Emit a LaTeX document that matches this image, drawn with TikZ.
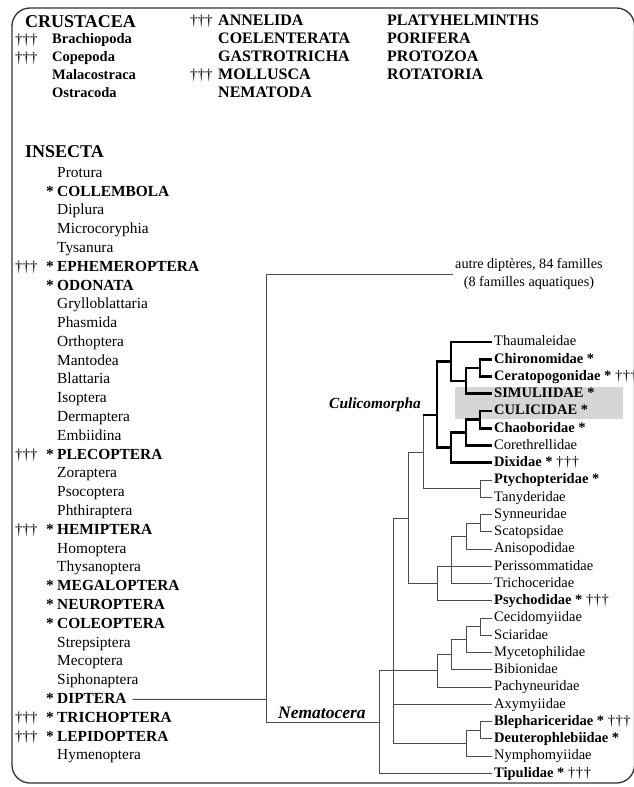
\documentclass[tikz,border=0pt]{standalone}
\usepackage{fontspec}
\setmainfont{Liberation Serif}
\newcommand\mydags{{\mdseries †\kern.6pt†\kern.6pt†}}
\begin{document}
\begin{tikzpicture}[x=1pt,y=-1pt,
  li/.style={anchor=west,inner sep=0pt,font=\fontsize{15.4}{17}\selectfont,text height=11pt,text depth=3pt},
  lf/.style={anchor=west,inner sep=0pt,font=\fontsize{14.5}{16}\selectfont,text height=10.5pt,text depth=3pt},
  lfb/.style={lf,font=\fontsize{14.5}{16}\selectfont\bfseries},
  topb/.style={anchor=west,inner sep=0pt,font=\fontsize{16}{18}\selectfont\bfseries,text height=11.5pt,text depth=3pt},
  topsub/.style={anchor=west,inner sep=0pt,font=\fontsize{14.5}{16}\selectfont\bfseries,text height=10.5pt,text depth=3pt},
  headb/.style={anchor=west,inner sep=0pt,font=\fontsize{18}{20}\selectfont\bfseries,text height=12.5pt,text depth=0pt},
  dag/.style={anchor=west,inner sep=0pt,font=\fontsize{15}{17}\selectfont,text height=11pt,text depth=3pt},
  br/.style={draw=black!70,line width=0.9pt},
  brk/.style={draw=black,line width=2.6pt,line join=miter},
]
\useasboundingbox (0,0) rectangle (633,787);
% frame
\draw[black!80,line width=1.3pt,rounded corners=18pt] (12,8) rectangle (634.5,783);

% top block
\node[headb] (cru) at (25,21) {CRUSTACEA};
\node[dag] (cd1) at (15,40) {†††};
\node[dag] (cd2) at (15,58) {†††};
\node[topsub] (c1) at (52,40) {Brachiopoda};
\node[topsub] (c2) at (52,58) {Copepoda};
\node[topsub] (c3) at (52,76) {Malacostraca};
\node[topsub] (c4) at (52,94) {Ostracoda};
\node[dag] (ad1) at (190,21) {†††};
\node[dag] (ad2) at (190,75) {†††};
\node[topb] (a1) at (218,21) {ANNELIDA};
\node[topb] (a2) at (218,39) {COELENTERATA};
\node[topb] (a3) at (218,57) {GASTROTRICHA};
\node[topb] (a4) at (218,75) {MOLLUSCA};
\node[topb] (a5) at (218,93) {NEMATODA};
\node[topb] (p1) at (387,21) {PLATYHELMINTHS};
\node[topb] (p2) at (387,39) {PORIFERA};
\node[topb] (p3) at (387,57) {PROTOZOA};
\node[topb] (p4) at (387,75) {ROTATORIA};

% insecta list
\node[headb] (ins) at (25,151.7) {INSECTA};
\foreach \t/\b [count=\i from 0] in {Protura/0,COLLEMBOLA/1,Diplura/0,Microcoryphia/0,Tysanura/0,EPHEMEROPTERA/1,ODONATA/1,Grylloblattaria/0,Phasmida/0,Orthoptera/0,Mantodea/0,Blattaria/0,Isoptera/0,Dermaptera/0,Embiidina/0,PLECOPTERA/1,Zoraptera/0,Psocoptera/0,Phthiraptera/0,HEMIPTERA/1,Homoptera/0,Thysanoptera/0,MEGALOPTERA/1,NEUROPTERA/1,COLEOPTERA/1,Strepsiptera/0,Mecoptera/0,Siphonaptera/0,DIPTERA/1,TRICHOPTERA/1,LEPIDOPTERA/1,Hymenoptera/0}
  {\node[li] (L\i) at (57,{173.3+18.79*\i}) {\ifnum\b=1 \bfseries\fi\t};}
\foreach \i in {1,5,6,15,19,22,23,24,28,29,30}
  {\node[li,font=\fontsize{15.4}{17}\selectfont\bfseries] (S\i) at (46,{173.3+18.79*\i}) {*};}
\foreach \i in {5,15,19,29,30}
  {\node[dag] (D\i) at (15,{173.3+18.79*\i}) {†††};}

% highlight
\fill[black!16] (455,386.7) rectangle (623,419.3);

% leaves
\node[lf] (Thau) at (494,342) {Thaumaleidae};
\node[lfb] (Chir) at (494,359.25) {Chironomidae *};
\node[lfb] (Cera) at (494,376.5) {Ceratopogonidae * \mydags};
\node[lfb] (Simu) at (494,393.75) {SIMULIIDAE *};
\node[lfb] (Culi) at (494,411) {CULICIDAE *};
\node[lfb] (Chao) at (494,428.25) {Chaoboridae *};
\node[lf] (Core) at (494,445.5) {Corethrellidae};
\node[lfb] (Dixi) at (494,462.75) {Dixidae * \mydags};
\node[lfb] (Ptyc) at (494,480) {Ptychopteridae *};
\node[lf] (Tany) at (494,497.25) {Tanyderidae};
\node[lf] (Synn) at (494,514.5) {Synneuridae};
\node[lf] (Scat) at (494,531.75) {Scatopsidae};
\node[lf] (Anis) at (494,549) {Anisopodidae};
\node[lf] (Peri) at (494,566.25) {Perissommatidae};
\node[lf] (Tric) at (494,583.5) {Trichoceridae};
\node[lfb] (Psyc) at (494,600.75) {Psychodidae * \mydags};
\node[lf] (Ceci) at (494,618) {Cecidomyiidae};
\node[lf] (Scia) at (494,635.25) {Sciaridae};
\node[lf] (Myce) at (494,652.5) {Mycetophilidae};
\node[lf] (Bibi) at (494,669.75) {Bibionidae};
\node[lf] (Pach) at (494,687) {Pachyneuridae};
\node[lf] (Axym) at (494,704.25) {Axymyiidae};
\node[lfb] (Blep) at (494,721.5) {Blephariceridae * \mydags};
\node[lfb] (Deut) at (494,738.75) {Deuterophlebiidae *};
\node[lf] (Nymp) at (494,756) {Nymphomyiidae};
\node[lfb] (Tipu) at (494,773.25) {Tipulidae * \mydags};

\node[anchor=west,inner sep=0pt,align=center,font=\fontsize{14.2}{18}\selectfont] (autre) at (455,274.5) {autre diptères, 84 familles\\(8 familles aquatiques)};
\node[anchor=base east,inner sep=0pt,font=\fontsize{15.4}{17}\selectfont\bfseries\itshape] (culm) at (421,408) {Culicomorpha};
\node[anchor=base west,inner sep=0pt,font=\fontsize{17.5}{19}\selectfont\bfseries\itshape] (nema) at (278,718) {Nematocera};

% internal coordinates
\coordinate (kCC) at (480,367.9);
\coordinate (kCCS) at (466,380.8);
\coordinate (kT) at (451,361.4);
\coordinate (kCu) at (480,419.6);
\coordinate (kCuC) at (466,432.6);
\coordinate (kD) at (451,447.7);
\coordinate (kCM) at (437,415);
\coordinate (kPT) at (480,488.6);
\coordinate (kCP) at (423,452);
\coordinate (kSS) at (480,523.1);
\coordinate (kSSA) at (466,536.1);
\coordinate (kTr) at (451,560);
\coordinate (kPP) at (437,583.5);
\coordinate (kPs) at (408,518);
\coordinate (kB1) at (480,626.6);
\coordinate (kB2) at (466,639.6);
\coordinate (kB3) at (451,654.7);
\coordinate (kB4) at (437,670.8);
\coordinate (kBl) at (480,730.1);
\coordinate (kBlN) at (466,743);
\coordinate (kAx) at (393,630);
\coordinate (kN) at (379,722);
\coordinate (kDip) at (266,699.4);

% thin branches
\draw[br] (kCP |- kCM) -- (kCP |- kPT) -- (kPT);
\draw[br] ([xshift=-2pt]Ptyc.west) -- (kPT |- Ptyc.west) -- (kPT |- Tany.west) -- ([xshift=-2pt]Tany.west);
\draw[br] ([xshift=-2pt]Synn.west) -- (kSS |- Synn.west) -- (kSS |- Scat.west) -- ([xshift=-2pt]Scat.west);
\draw[br] (kSS) -- (kSSA |- kSS) -- (kSSA |- Anis.west) -- ([xshift=-2pt]Anis.west);
\draw[br] (kSSA) -- (kTr |- kSSA) -- (kTr |- Tric.west) -- ([xshift=-2pt]Tric.west);
\draw[br] ([xshift=-2pt]Peri.west) -- (kPP |- Peri.west) -- (kPP |- Psyc.west) -- ([xshift=-2pt]Psyc.west);
\draw[br] (kCP) -- (kPs |- kCP) -- (kPs |- kPP) -- (kPP);
\draw[br] ([xshift=-2pt]Ceci.west) -- (kB1 |- Ceci.west) -- (kB1 |- Scia.west) -- ([xshift=-2pt]Scia.west);
\draw[br] (kB1) -- (kB2 |- kB1) -- (kB2 |- Myce.west) -- ([xshift=-2pt]Myce.west);
\draw[br] (kB2) -- (kB3 |- kB2) -- (kB3 |- Bibi.west) -- ([xshift=-2pt]Bibi.west);
\draw[br] (kB3) -- (kB4 |- kB3) -- (kB4 |- Pach.west) -- ([xshift=-2pt]Pach.west);
\draw[br] ([xshift=-2pt]Blep.west) -- (kBl |- Blep.west) -- (kBl |- Deut.west) -- ([xshift=-2pt]Deut.west);
\draw[br] (kBl) -- (kBlN |- kBl) -- (kBlN |- Nymp.west) -- ([xshift=-2pt]Nymp.west);
\draw[br] (kPs) -- (kAx |- kPs) -- (kAx |- kBlN) -- (kBlN);
\draw[br] (kAx |- Axym.west) -- ([xshift=-2pt]Axym.west);
\draw[br] (kB4) -- (kN |- kB4) -- (kN |- Tipu.west) -- ([xshift=-2pt]Tipu.west);
\draw[br] (kN) -- (kDip |- kN) -- (kDip |- autre.west) -- ([xshift=-2pt]autre.west);
\draw[br] ([xshift=6pt]L28.east) -- (kDip);

% thick Culicomorpha
\draw[brk] ([xshift=-2pt]Chir.west) -- (kCC |- Chir.west) -- (kCC |- Cera.west) -- ([xshift=-2pt]Cera.west);
\draw[brk] (kCC) -- (kCCS |- kCC) -- (kCCS |- Simu.west) -- ([xshift=-2pt]Simu.west);
\draw[brk] ([xshift=-2pt]Thau.west) -- (kT |- Thau.west) -- (kT |- kCCS) -- (kCCS);
\draw[brk] ([xshift=-2pt]Culi.west) -- (kCu |- Culi.west) -- (kCu |- Chao.west) -- ([xshift=-2pt]Chao.west);
\draw[brk] (kCu) -- (kCuC |- kCu) -- (kCuC |- Core.west) -- ([xshift=-2pt]Core.west);
\draw[brk] (kCuC) -- (kD |- kCuC) -- (kD |- Dixi.west) -- ([xshift=-2pt]Dixi.west);
\draw[brk] (kT) -- (kCM |- kT) -- (kCM |- kD) -- (kD);
\draw[brk] (kCM) -- (kCP |- kCM);
\end{tikzpicture}
\end{document}
